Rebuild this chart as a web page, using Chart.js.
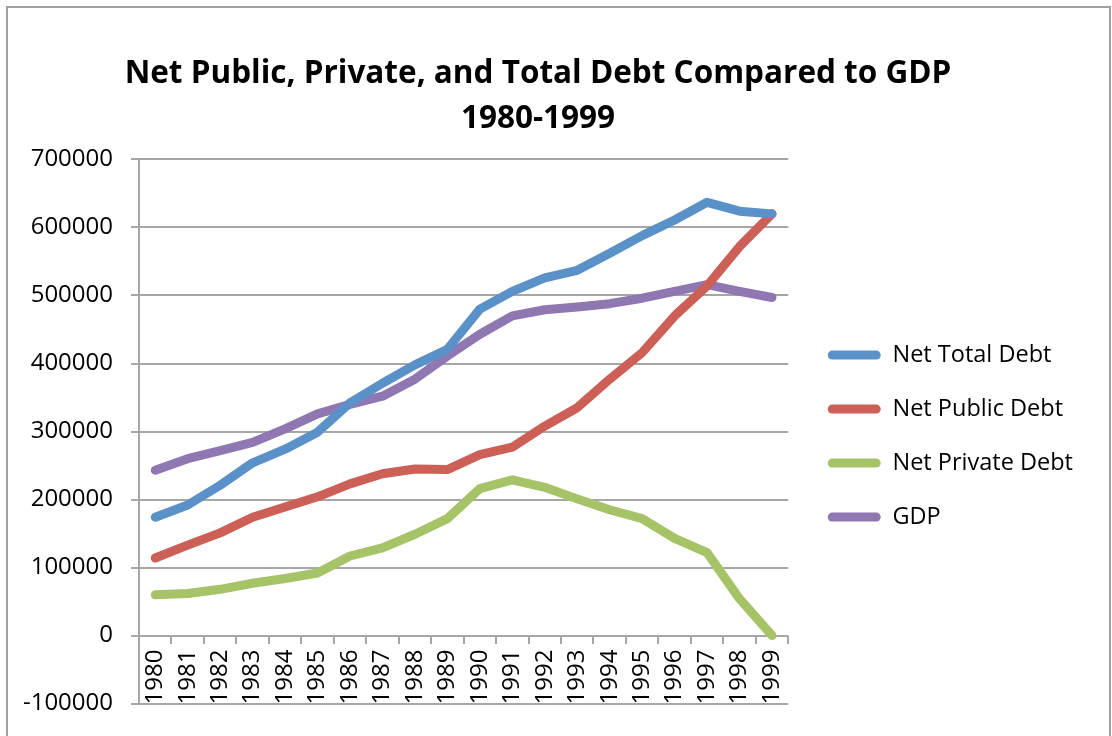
<!DOCTYPE html>
<html>
<head>
<meta charset="utf-8">
<script src="https://cdn.jsdelivr.net/npm/chart.js@4.4.1/dist/chart.umd.min.js"></script>
<style>
  html, body { margin: 0; padding: 0; background: #fff; overflow: hidden; }
  #frame { position: absolute; left: 6px; top: 6px; width: 1101px; height: 740px; border: 2px solid #a0a0a0; }
  #wrap { position: absolute; left: -17px; top: 0; width: 1100px; height: 736px; }
</style>
</head>
<body>
<div id="frame"></div>
<div id="wrap"><canvas id="debtChart" width="1100" height="736"></canvas></div>
<script>
// values
const years = ['1980', '1981', '1982', '1983', '1984', '1985', '1986', '1987', '1988', '1989',
               '1990', '1991', '1992', '1993', '1994', '1995', '1996', '1997', '1998', '1999'];
const netTotalDebt = [174000, 192000, 221000, 254000, 274000, 299000, 342000, 371000, 398000, 421000,
                      480000, 506000, 526000, 537000, 562000, 588000, 611000, 637000, 624000, 620000];
const netPublicDebt = [114000, 133000, 151000, 174000, 189000, 204000, 223000, 238000, 245000, 244000,
                       266000, 277000, 308000, 335000, 377000, 416000, 470000, 514000, 572000, 620000];
const netPrivateDebt = [60000, 62000, 68000, 77000, 84000, 92000, 117000, 129000, 149000, 172000,
                        216000, 229000, 218000, 201000, 185000, 172000, 143000, 122000, 54000, 0];
const gdp = [243000, 260000, 272000, 284000, 304000, 326000, 340000, 352000, 377000, 411000,
             443000, 470000, 479000, 483000, 488000, 496000, 506000, 516000, 506000, 497000];
const yTicks = [-100000, 0, 100000, 200000, 300000, 400000, 500000, 600000, 700000];

const gridGray = '#a6a6a6';
const fontFamily = "'Open Sans', sans-serif";

function lineSet(label, values, color) {
    return {
        label: label,
        data: values,
        borderColor: color,
        backgroundColor: color,
        borderWidth: 9,
        borderCapStyle: 'round',
        borderJoinStyle: 'round',
        pointRadius: 0,
        pointHoverRadius: 0,
        tension: 0,
        fill: false
    };
}

new Chart(document.getElementById('debtChart'), {
    type: 'line',
    data: {
        labels: years,
        datasets: [
            lineSet('Net Total Debt', netTotalDebt, '#5b91c9'),
            lineSet('Net Public Debt', netPublicDebt, '#cc5f56'),
            lineSet('Net Private Debt', netPrivateDebt, '#a6c368'),
            lineSet('GDP', gdp, '#8f77b1')
        ]
    },
    options: {
        responsive: false,
        animation: false,
        devicePixelRatio: 1,
        layout: {
            padding: { left: 10, right: 0, top: 0, bottom: 30 }
        },
        scales: {
            x: {
                type: 'category',
                position: { y: 0 },
                offset: true,
                grid: {
                    offset: true,
                    drawOnChartArea: false,
                    drawTicks: true,
                    tickLength: 8,
                    color: gridGray,
                    lineWidth: 2
                },
                border: { display: false },
                ticks: {
                    minRotation: 90,
                    maxRotation: 90,
                    autoSkip: false,
                    padding: 6,
                    color: '#000',
                    font: { family: fontFamily, size: 24 }
                }
            },
            y: {
                min: -100000,
                max: 700000,
                afterBuildTicks: function(scale) {
                    scale.ticks = yTicks.map(v => ({ value: v }));
                },
                afterFit: function(scale) {
                    scale.width = 146;
                },
                grid: {
                    color: gridGray,
                    lineWidth: 2,
                    tickLength: 8
                },
                border: { color: gridGray, width: 2 },
                ticks: {
                    padding: 18,
                    color: '#000',
                    font: { family: fontFamily, size: 24 },
                    callback: function(value) {
                        return String(value);
                    }
                }
            },
            // empty spacer between plot and legend
            gap: {
                position: 'right',
                display: true,
                grid: { display: false, drawTicks: false },
                border: { display: false },
                ticks: { display: false },
                afterFit: function(scale) {
                    scale.width = 9;
                }
            }
        },
        plugins: {
            title: {
                display: true,
                text: ['Net Public, Private, and Total Debt Compared to GDP', '1980-1999'],
                color: '#000',
                font: { family: fontFamily, size: 31.5, weight: 'bold', lineHeight: 1.42 },
                padding: { top: 52, bottom: 18 }
            },
            legend: {
                position: 'right',
                align: 'center',
                maxWidth: 400,
                title: {
                    display: true,
                    text: ' ',
                    font: { family: fontFamily, size: 23.5, lineHeight: 1.2 },
                    padding: { top: 69, bottom: 69 }
                },
                labels: {
                    color: '#000',
                    font: { family: fontFamily, size: 23.5 },
                    boxWidth: 53,
                    boxHeight: 9,
                    useBorderRadius: true,
                    borderRadius: 4.5,
                    padding: 30.5,
                    generateLabels: function(chart) {
                        const items = Chart.defaults.plugins.legend.labels.generateLabels(chart);
                        items.forEach(function(item) { item.lineWidth = 0; });
                        return items;
                    }
                }
            },
            tooltip: { enabled: false }
        }
    }
});
</script>
</body>
</html>
